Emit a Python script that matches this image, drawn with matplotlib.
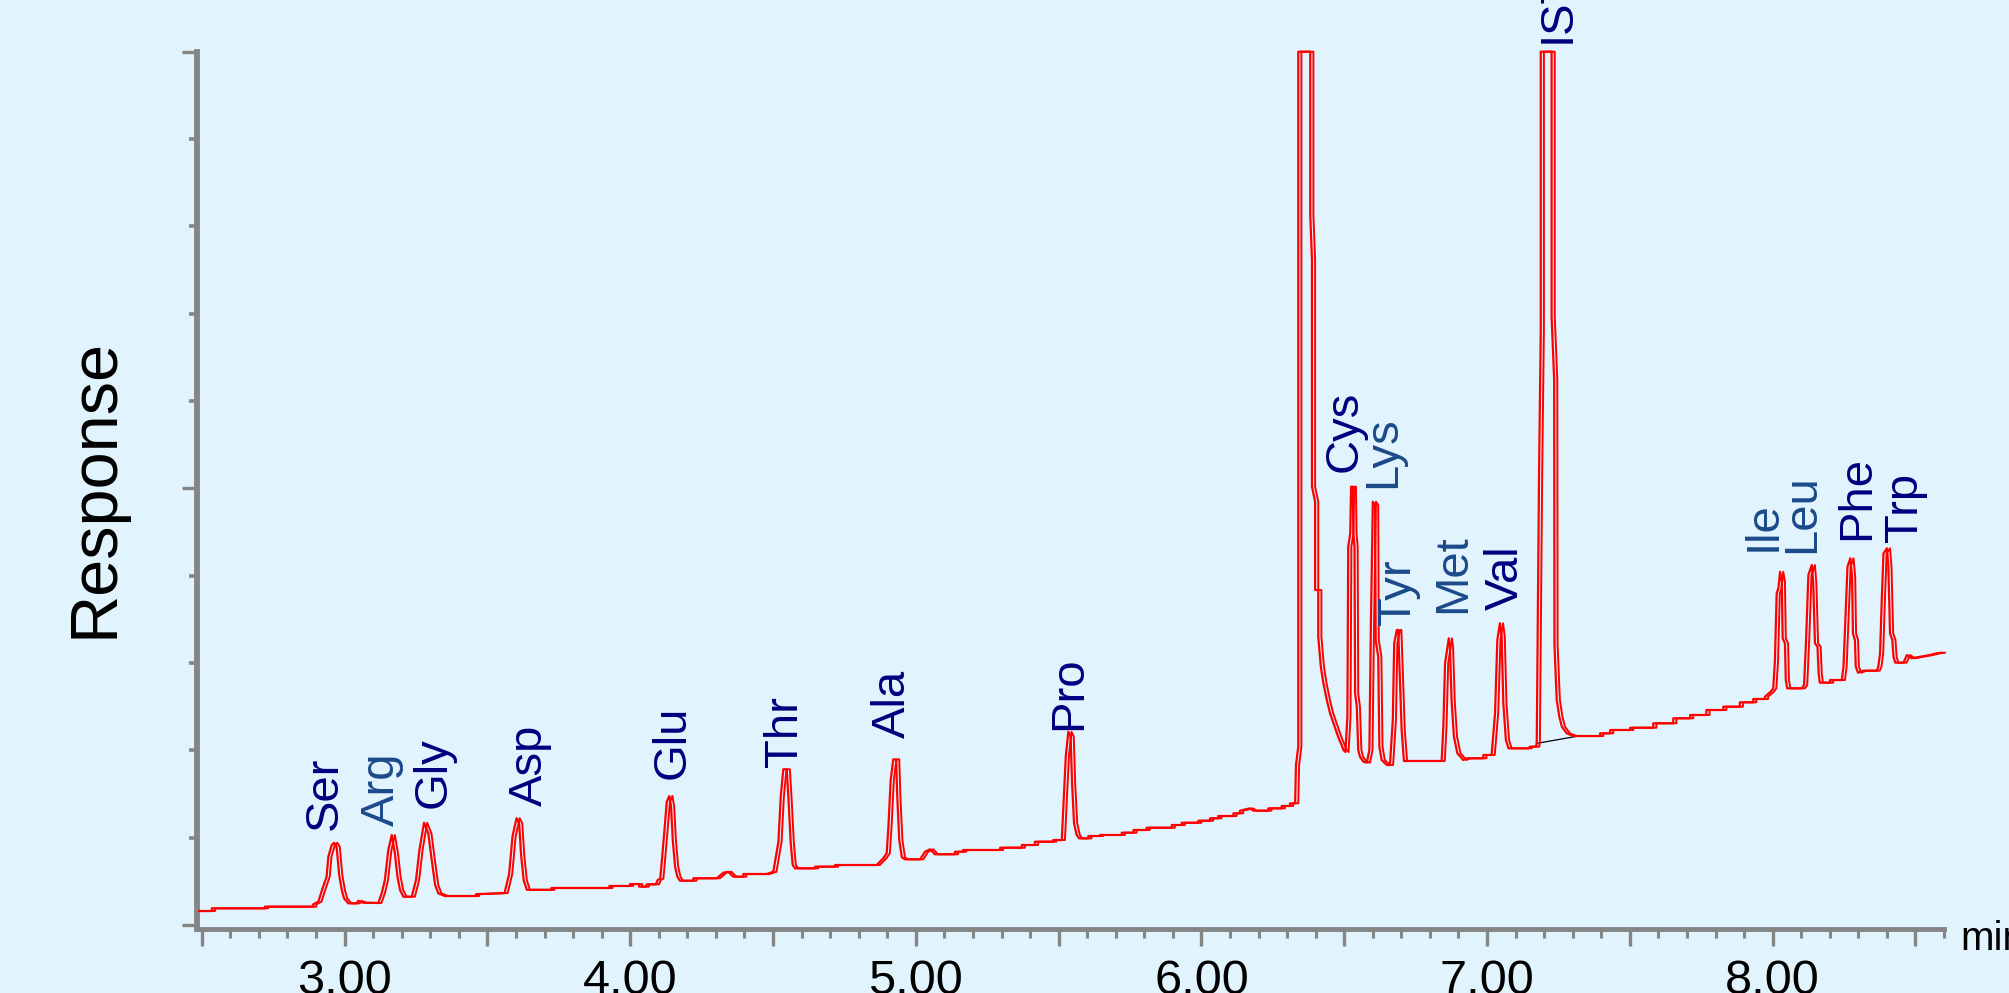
import matplotlib
matplotlib.use('Agg')
import matplotlib.pyplot as plt
from matplotlib.ticker import MultipleLocator, FuncFormatter, NullFormatter

plt.rcParams['font.family'] = ['Liberation Sans', 'DejaVu Sans']

# ---- chromatogram trace (retention time in min, response in axis units 0..10) ----
time_min = [
    2.491, 2.535, 2.535, 2.721, 2.721, 2.890, 2.890, 2.908, 2.923, 2.937, 2.943, 2.955,
    2.963, 2.972, 2.981, 2.990, 2.998, 3.013, 3.042, 3.048, 3.065, 3.118, 3.130, 3.141,
    3.153, 3.165, 3.176, 3.185, 3.194, 3.206, 3.235, 3.250, 3.262, 3.278, 3.293, 3.305,
    3.317, 3.328, 3.351, 3.460, 3.460, 3.560, 3.576, 3.588, 3.602, 3.611, 3.618, 3.627,
    3.638, 3.724, 3.724, 3.927, 3.927, 3.999, 3.999, 4.031, 4.031, 4.054, 4.058, 4.090,
    4.096, 4.105, 4.110, 4.119, 4.128, 4.137, 4.143, 4.149, 4.157, 4.165, 4.174, 4.221,
    4.221, 4.303, 4.326, 4.343, 4.361, 4.396, 4.396, 4.478, 4.501, 4.519, 4.527, 4.536,
    4.548, 4.554, 4.562, 4.569, 4.577, 4.647, 4.647, 4.717, 4.717, 4.863, 4.886, 4.898,
    4.904, 4.912, 4.921, 4.931, 4.935, 4.942, 4.951, 4.962, 5.015, 5.032, 5.050, 5.067,
    5.137, 5.137, 5.166, 5.166, 5.295, 5.295, 5.371, 5.371, 5.417, 5.417, 5.481, 5.481,
    5.511, 5.516, 5.525, 5.534, 5.542, 5.547, 5.554, 5.563, 5.572, 5.604, 5.604, 5.645,
    5.645, 5.721, 5.721, 5.762, 5.762, 5.808, 5.808, 5.896, 5.896, 5.931, 5.931, 5.989,
    5.989, 6.030, 6.030, 6.059, 6.059, 6.112, 6.112, 6.135, 6.135, 6.170, 6.182, 6.234,
    6.234, 6.281, 6.281, 6.310, 6.310, 6.328, 6.331, 6.339, 6.339, 6.381, 6.381, 6.387,
    6.387, 6.398, 6.398, 6.409, 6.409, 6.418, 6.427, 6.439, 6.450, 6.462, 6.474, 6.483,
    6.491, 6.497, 6.504, 6.511, 6.514, 6.521, 6.524, 6.530, 6.532, 6.536, 6.538, 6.544,
    6.549, 6.555, 6.567, 6.579, 6.588, 6.593, 6.600, 6.608, 6.610, 6.619, 6.623, 6.631,
    6.649, 6.660, 6.670, 6.675, 6.684, 6.689, 6.693, 6.701, 6.709, 6.841, 6.847, 6.853,
    6.866, 6.870, 6.876, 6.884, 6.896, 6.917, 6.929, 6.987, 6.987, 7.016, 7.028, 7.036,
    7.045, 7.051, 7.057, 7.066, 7.075, 7.145, 7.150, 7.172, 7.174, 7.182, 7.188, 7.188,
    7.226, 7.226, 7.235, 7.236, 7.244, 7.253, 7.262, 7.279, 7.302, 7.396, 7.396, 7.431,
    7.431, 7.501, 7.501, 7.582, 7.582, 7.652, 7.652, 7.711, 7.711, 7.768, 7.768, 7.827,
    7.827, 7.885, 7.885, 7.932, 7.932, 7.973, 7.973, 7.993, 8.002, 8.008, 8.014, 8.020,
    8.026, 8.032, 8.035, 8.043, 8.046, 8.051, 8.102, 8.110, 8.117, 8.125, 8.137, 8.142,
    8.148, 8.157, 8.161, 8.165, 8.201, 8.201, 8.242, 8.248, 8.254, 8.262, 8.272, 8.278,
    8.281, 8.288, 8.291, 8.299, 8.318, 8.364, 8.370, 8.376, 8.382, 8.388, 8.400, 8.405,
    8.411, 8.419, 8.423, 8.429, 8.458, 8.470, 8.487, 8.505, 8.551, 8.574, 8.592,
]
response = [
    0.160, 0.160, 0.191, 0.191, 0.210, 0.210, 0.237, 0.267, 0.420, 0.553, 0.782, 0.916,
    0.942, 0.897, 0.573, 0.401, 0.306, 0.248, 0.248, 0.278, 0.255, 0.252, 0.363, 0.515,
    0.859, 1.031, 0.821, 0.553, 0.401, 0.324, 0.324, 0.515, 0.859, 1.171, 1.050, 0.744,
    0.458, 0.363, 0.332, 0.332, 0.353, 0.366, 0.584, 1.019, 1.223, 1.165, 0.802, 0.512,
    0.403, 0.403, 0.424, 0.424, 0.447, 0.447, 0.469, 0.469, 0.439, 0.439, 0.466, 0.466,
    0.515, 0.530, 0.706, 1.050, 1.412, 1.477, 1.355, 0.973, 0.668, 0.553, 0.507, 0.507,
    0.535, 0.535, 0.599, 0.610, 0.553, 0.553, 0.584, 0.584, 0.610, 0.954, 1.469, 1.783,
    1.783, 1.450, 0.936, 0.687, 0.649, 0.649, 0.668, 0.668, 0.687, 0.687, 0.764, 0.821,
    1.126, 1.660, 1.897, 1.897, 1.469, 0.973, 0.775, 0.752, 0.752, 0.839, 0.867, 0.810,
    0.810, 0.839, 0.839, 0.859, 0.859, 0.885, 0.885, 0.916, 0.916, 0.954, 0.954, 0.973,
    0.973, 1.317, 1.927, 2.213, 2.156, 1.623, 1.165, 1.031, 0.992, 0.992, 1.019, 1.019,
    1.031, 1.031, 1.057, 1.057, 1.088, 1.088, 1.114, 1.114, 1.145, 1.145, 1.171, 1.171,
    1.194, 1.194, 1.222, 1.222, 1.248, 1.248, 1.279, 1.279, 1.309, 1.336, 1.309, 1.309,
    1.336, 1.336, 1.363, 1.363, 1.393, 1.393, 1.832, 2.042, 10.000, 10.000, 8.130, 7.615,
    5.019, 4.847, 3.836, 3.836, 3.301, 2.958, 2.768, 2.576, 2.428, 2.313, 2.199, 2.118,
    2.061, 2.004, 1.981, 2.385, 4.332, 4.485, 5.019, 5.019, 4.485, 4.332, 2.653, 2.500,
    2.004, 1.927, 1.870, 1.858, 2.004, 3.378, 4.847, 4.809, 3.263, 3.072, 2.042, 1.889,
    1.832, 1.832, 2.347, 3.226, 3.378, 3.378, 2.997, 2.233, 1.878, 1.878, 2.271, 2.997,
    3.283, 3.187, 2.557, 2.156, 1.966, 1.889, 1.909, 1.909, 1.947, 1.947, 2.424, 3.263,
    3.455, 3.301, 2.539, 2.118, 2.023, 2.023, 2.042, 2.042, 2.099, 5.153, 6.813, 10.000,
    10.000, 6.966, 6.241, 3.206, 2.576, 2.385, 2.271, 2.195, 2.164, 2.164, 2.195, 2.195,
    2.233, 2.233, 2.259, 2.259, 2.310, 2.310, 2.367, 2.367, 2.405, 2.405, 2.462, 2.462,
    2.500, 2.500, 2.550, 2.550, 2.588, 2.588, 2.614, 2.672, 2.710, 3.034, 3.798, 3.855,
    4.045, 3.931, 3.283, 3.226, 2.805, 2.710, 2.710, 2.748, 3.263, 4.008, 4.122, 3.913,
    3.226, 3.187, 2.882, 2.775, 2.775, 2.805, 2.805, 2.958, 3.455, 4.103, 4.199, 3.988,
    3.340, 3.263, 2.958, 2.889, 2.912, 2.912, 2.958, 3.111, 3.722, 4.256, 4.314, 4.103,
    3.340, 3.263, 3.072, 3.004, 3.004, 3.092, 3.054, 3.065, 3.092, 3.111, 3.118,
]

# ---- peak labels ----
peak_names = ['Ser', 'Arg', 'Gly', 'Asp', 'Glu', 'Thr', 'Ala', 'Pro', 'Cys', 'Lys',
              'Tyr', 'Met', 'Val', 'IST', 'Ile', 'Leu', 'Phe', 'Trp']
label_time = [2.930, 3.131, 3.310, 3.650, 4.150, 4.543, 4.918, 5.537, 6.503, 6.637,
              6.689, 6.880, 7.064, 7.247, 7.968, 8.102, 8.295, 8.464]
label_height = [1.088, 1.134, 1.345, 1.368, 1.668, 1.813, 2.138, 2.233, 5.191, 5.001,
                3.435, 3.569, 3.607, 10.096, 4.286, 4.256, 4.409, 4.389]

# ---- integration baseline drawn under the internal standard ----
ist_baseline_time = [7.174, 7.320]
ist_baseline_resp = [2.080, 2.164]

BG = '#E1F3FC'
AXC = '#858585'
NAVY = '#000080'
STEEL = '#1B4A8A'
steel_names = {'Arg', 'Lys', 'Tyr', 'Met', 'Ile', 'Leu'}

fig = plt.figure(figsize=(20.09, 9.93), dpi=100, facecolor=BG)
ax = fig.add_axes([0.09806, 0.06495, 0.8696, 0.8830])
ax.set_facecolor(BG)
ax.set_xlim(2.4832, 8.6)
ax.set_ylim(-0.04, 10)

shift = 0.011
ax.plot(time_min, response, color='#FF0000', lw=1.6, clip_on=False, zorder=3)
ax.plot([t + shift for t in time_min], response, color='#FF0000', lw=1.4,
        clip_on=False, zorder=3)
ax.plot(ist_baseline_time, ist_baseline_resp, color='black', lw=0.9, zorder=2)

for name, t, h in zip(peak_names, label_time, label_height):
    ax.text(t, h, name, rotation=90, ha='center', va='bottom', fontsize=34,
            color=STEEL if name in steel_names else NAVY, clip_on=False, zorder=4)

for s in ('top', 'right'):
    ax.spines[s].set_visible(False)
ax.spines['left'].set_color(AXC)
ax.spines['left'].set_linewidth(4.2)
ax.spines['bottom'].set_color(AXC)
ax.spines['bottom'].set_linewidth(3.5)

ax.xaxis.set_major_locator(MultipleLocator(0.5))
ax.xaxis.set_minor_locator(MultipleLocator(0.1))
ax.xaxis.set_major_formatter(FuncFormatter(
    lambda v, p: f'{v:.2f}' if abs(v - round(v)) < 1e-6 else ''))
ax.yaxis.set_major_locator(MultipleLocator(5))
ax.yaxis.set_minor_locator(MultipleLocator(1))
ax.yaxis.set_major_formatter(NullFormatter())

ax.tick_params(axis='x', which='major', length=12, width=2.4, color=AXC,
               labelsize=35, labelcolor='black', pad=10, direction='out')
ax.tick_params(axis='x', which='minor', length=6.3, width=2.2, color=AXC, direction='out')
ax.tick_params(axis='y', which='major', length=11, width=2.4, color=AXC, direction='out')
ax.tick_params(axis='y', which='minor', length=5.8, width=2.6, color=AXC, direction='out')

fig.text(96 / 2009, 1 - 488 / 993, 'Response', rotation=90, fontsize=48,
         ha='center', va='center', color='black')
fig.text(1960 / 2009, 43 / 993, 'min', fontsize=29, ha='left', va='baseline',
         color='black')

fig.savefig('out.png', dpi=100, facecolor=BG)
